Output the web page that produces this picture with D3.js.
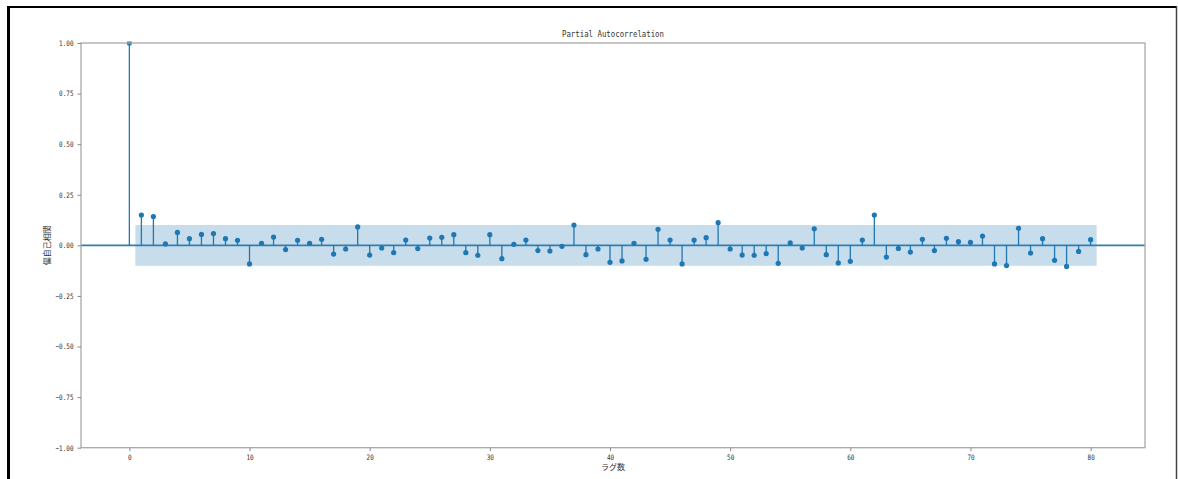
<!DOCTYPE html>
<meta charset="utf-8">
<script src="https://d3js.org/d3.v7.min.js"></script>
<style>
  body { margin: 0; background: #fff; }
  text { fill: #333; }
</style>
<div id="my_dataviz"></div>
<script>
  // partial autocorrelation for lags 0..80
  var pacfValues = [
    1.000, 0.150, 0.142, 0.007, 0.064, 0.033, 0.054, 0.058, 0.033, 0.025,
    -0.092, 0.010, 0.041, -0.021, 0.025, 0.010, 0.030, -0.043, -0.018, 0.091,
    -0.048, -0.013, -0.036, 0.026, -0.016, 0.036, 0.040, 0.053, -0.036, -0.049,
    0.053, -0.066, 0.005, 0.026, -0.026, -0.028, -0.005, 0.100, -0.046, -0.018,
    -0.084, -0.077, 0.010, -0.069, 0.079, 0.026, -0.092, 0.026, 0.038, 0.112,
    -0.018, -0.048, -0.049, -0.041, -0.089, 0.012, -0.013, 0.082, -0.046, -0.087,
    -0.079, 0.026, 0.150, -0.058, -0.015, -0.033, 0.030, -0.026, 0.035, 0.018,
    0.015, 0.046, -0.092, -0.100, 0.084, -0.038, 0.033, -0.074, -0.104, -0.030,
    0.028
  ];
  var confLimit = 0.101;   // 95% band, same for all lags
  var xTicks = [0, 10, 20, 30, 40, 50, 60, 70, 80];
  var yTicks = [-1.00, -0.75, -0.50, -0.25, 0.00, 0.25, 0.50, 0.75, 1.00];
  var titleText = "Partial Autocorrelation";
  var xLabel = "ラグ数";
  var yLabel = "偏自己相関";

  var W = 1178, H = 479;
  var margin = {left: 81, right: 1145, top: 43, bottom: 447.7};
  var blue = "#1f77b4";

  var svg = d3.select("#my_dataviz").append("svg")
      .attr("width", W).attr("height", H);

  // outer frame of the screenshot: heavy left/top, thin right
  svg.append("line").attr("x1", 8.5).attr("x2", 8.5).attr("y1", 6).attr("y2", H)
    .attr("stroke", "#000").attr("stroke-width", 3);
  svg.append("line").attr("x1", 7).attr("x2", 1177).attr("y1", 7).attr("y2", 7)
    .attr("stroke", "#000").attr("stroke-width", 2.2);
  svg.append("line").attr("x1", 1176.5).attr("x2", 1176.5).attr("y1", 6).attr("y2", H)
    .attr("stroke", "#444").attr("stroke-width", 1.5);

  var data = pacfValues.map(function(v, i) { return {lag: i, value: v}; });
  var nl = data.length - 1;

  var x = d3.scaleLinear().domain([-0.05 * (nl + 0.5), (nl + 0.5) * 1.05]).range([margin.left, margin.right]);
  var y = d3.scaleLinear().domain([-1, 1]).range([margin.bottom, margin.top]);

  svg.append("clipPath").attr("id", "clip")
    .append("rect").attr("x", margin.left).attr("y", margin.top - 1.5)
    .attr("width", margin.right - margin.left).attr("height", margin.bottom - margin.top + 1.5);

  var plot = svg.append("g").attr("clip-path", "url(#clip)");

  // confidence band
  plot.append("path")
    .datum([{lag: 0.5}, {lag: nl + 0.5}])
    .attr("fill", blue).attr("fill-opacity", 0.25)
    .attr("d", d3.area()
      .x(function(d) { return x(d.lag); })
      .y0(function() { return y(-confLimit); })
      .y1(function() { return y(confLimit); }));

  // zero line
  plot.append("line")
    .attr("x1", margin.left).attr("x2", margin.right)
    .attr("y1", y(0)).attr("y2", y(0))
    .attr("stroke", "#2f7fb0").attr("stroke-width", 1.6);

  // stems
  plot.selectAll(".stem").data(data).enter().append("line")
    .attr("class", "stem")
    .attr("x1", function(d) { return x(d.lag); })
    .attr("x2", function(d) { return x(d.lag); })
    .attr("y1", y(0))
    .attr("y2", function(d) { return y(d.value); })
    .attr("stroke", blue).attr("stroke-width", 1.3);

  plot.selectAll(".dot").data(data).enter().append("circle")
    .attr("class", "dot")
    .attr("cx", function(d) { return x(d.lag); })
    .attr("cy", function(d) { return y(d.value); })
    .attr("r", 2.6)
    .attr("fill", blue);

  // spines
  svg.append("rect")
    .attr("x", margin.left).attr("y", margin.top)
    .attr("width", margin.right - margin.left).attr("height", margin.bottom - margin.top)
    .attr("fill", "none").attr("stroke", "#a8a8a8").attr("stroke-width", 1.3);

  // axes
  var xAxis = svg.append("g")
    .attr("transform", "translate(0," + margin.bottom + ")")
    .call(d3.axisBottom(x).tickValues(xTicks).tickSize(3.5).tickPadding(3).tickFormat(d3.format("d")));
  var yAxis = svg.append("g")
    .attr("transform", "translate(" + margin.left + ",0)")
    .call(d3.axisLeft(y).tickValues(yTicks).tickSize(3.5).tickPadding(4).tickFormat(d3.format(".2f")));

  [xAxis, yAxis].forEach(function(a) {
    a.select(".domain").remove();
    a.selectAll(".tick line").attr("stroke", "#888");
    a.selectAll(".tick text")
      .attr("fill", "#333")
      .attr("textLength", function() { return this.textContent.length * 3.6; })
      .attr("lengthAdjust", "spacingAndGlyphs")
      .style("font-family", "'DejaVu Sans Mono', monospace")
      .style("font-size", "7.5px");
  });

  // title and axis labels
  svg.append("text")
    .attr("x", (margin.left + margin.right) / 2).attr("y", 37)
    .attr("text-anchor", "middle")
    .attr("textLength", 102).attr("lengthAdjust", "spacingAndGlyphs")
    .style("font-family", "'DejaVu Sans Mono', monospace")
    .style("font-size", "9.5px")
    .text(titleText);

  svg.append("text")
    .attr("x", (margin.left + margin.right) / 2).attr("y", 470)
    .attr("text-anchor", "middle")
    .style("font-family", "'Noto Sans CJK JP', sans-serif")
    .style("font-size", "8px")
    .text(xLabel);

  svg.append("text")
    .attr("transform", "translate(50," + (margin.top + margin.bottom) / 2 + ") rotate(-90)")
    .attr("text-anchor", "middle")
    .style("font-family", "'Noto Sans CJK JP', sans-serif")
    .style("font-size", "8px")
    .text(yLabel);
</script>
